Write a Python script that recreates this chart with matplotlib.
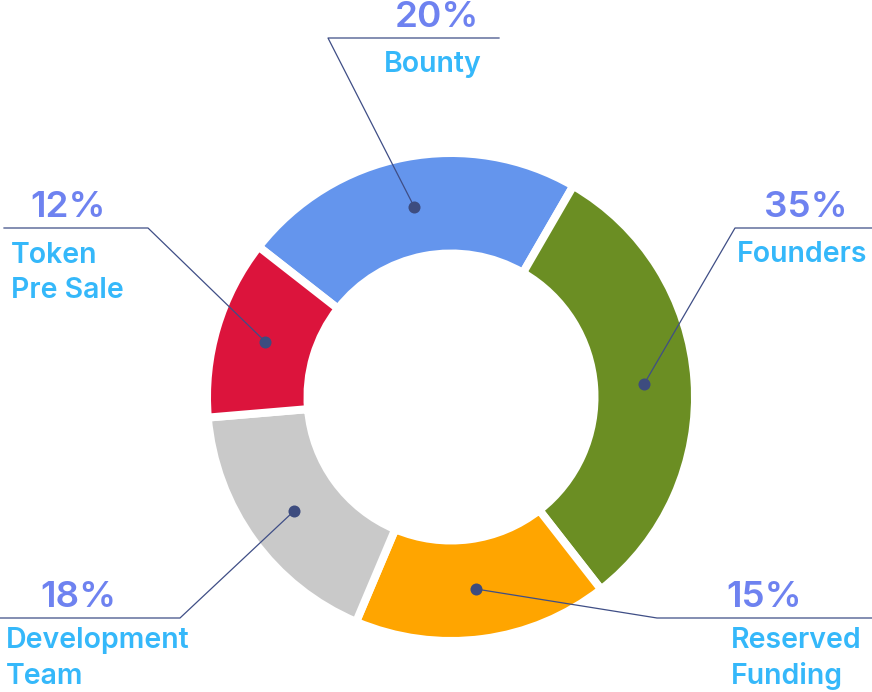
import matplotlib
matplotlib.use("Agg")
import matplotlib.pyplot as plt
import numpy as np

# ---- data ----
categories = [["Bounty"], ["Founders"], ["Reserved", "Funding"],
              ["Development", "Team"], ["Token", "Pre Sale"]]
pct_labels = ["20%", "35%", "15%", "18%", "12%"]
slice_shares = [22.8, 31.1, 16.9, 17.3, 11.9]   # arc shares as drawn in the picture
colors = ["#6495ED", "#6B8E23", "#FFA500", "#C9C9C9", "#DC143C"]

W, H = 872, 692
fig = plt.figure(figsize=(W / 100, H / 100), dpi=100)
ax = fig.add_axes([0, 0, 1, 1])

def Y(y):  # convert top-origin pixel y to axes y
    return H - y

cx, cy = 451, Y(397)
gap_px = 8
R = 240 + gap_px / 2
r_in = 147.5 - gap_px / 2

wedges, _ = ax.pie(slice_shares, colors=colors, radius=R, center=(cx, cy),
                   startangle=142, counterclock=False,
                   wedgeprops=dict(width=R - r_in, edgecolor="white",
                                   linewidth=gap_px * 72 / 100))
ax.set_xlim(0, W)
ax.set_ylim(0, H)
ax.set_aspect("equal")
ax.axis("off")

line_c = "#3F4E86"
dot_c = "#3D4C7F"
pct_c = "#6E82F0"
lab_c = "#35B8FA"
font = ["Inter", "DejaVu Sans"]

# layout: (elbow, end, pct text pos/ha, label pos/ha) in top-origin pixels
layout = [
    dict(elbow=(328, 38), end=(499, 38), pct=(437, 27, "center"), lab=(433, 72, "center")),
    dict(elbow=(735, 228), end=(872, 228), pct=(806, 217, "center"), lab=(802, 262, "center")),
    dict(elbow=(657, 618), end=(872, 618), pct=(764, 607, "center"), lab=(731, 648, "left")),
    dict(elbow=(180, 618), end=(0, 618), pct=(78, 607, "center"), lab=(6, 648, "left")),
    dict(elbow=(148, 228), end=(4, 228), pct=(68, 217, "center"), lab=(11, 263, "left")),
]
line_step = 35.5

r_mid = (240 + 147.5) / 2
for w, cat, pct, lay in zip(wedges, categories, pct_labels, layout):
    ang = np.deg2rad((w.theta1 + w.theta2) / 2)
    dx, dy = cx + r_mid * np.cos(ang), cy + r_mid * np.sin(ang)
    ex, ey = lay["elbow"]
    fx, fy = lay["end"]
    ax.plot([dx, ex, fx], [dy, Y(ey), Y(fy)], color=line_c, lw=0.9, zorder=3)
    ax.scatter([dx], [dy], s=75, color=dot_c, zorder=4, linewidths=0)
    px, py, pha = lay["pct"]
    ax.text(px, Y(py), pct, color=pct_c, fontsize=26.5, family=font,
            fontweight="semibold", ha=pha, va="baseline")
    lx, ly, lha = lay["lab"]
    for i, line in enumerate(cat):
        ax.text(lx, Y(ly + i * line_step), line, color=lab_c, fontsize=20.5,
                family=font, fontweight="semibold", ha=lha, va="baseline")

fig.savefig("out.png", dpi=100)
